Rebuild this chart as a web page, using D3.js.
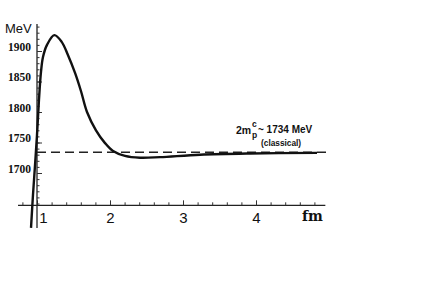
<!DOCTYPE html>
<html>
<head>
<meta charset="utf-8">
<script src="https://cdn.jsdelivr.net/npm/d3@7"></script>
<style>
  body { margin: 0; background: #fff; }
  svg { display: block; }
</style>
</head>
<body>
<svg id="chart" width="436" height="303"></svg>
<script>
// energy curve, r in fm, E in MeV
const rValues = [0.918, 0.945, 0.973, 1.0, 1.027, 1.055, 1.082, 1.137, 1.237, 1.338, 1.425,
  1.521, 1.603, 1.685, 1.808, 1.932, 2.041, 2.205, 2.411, 2.685, 3.233, 3.918, 4.836];
const eValues = [1610, 1664, 1713, 1762, 1820, 1866, 1890, 1910, 1926, 1915, 1893,
  1864, 1834, 1800, 1770, 1749, 1736, 1728, 1725, 1726, 1730, 1732, 1733];
const classicalE = 1734;
const xTicks = [1, 2, 3, 4];
const yTicks = [1700, 1750, 1800, 1850, 1900];

const svg = d3.select('#chart');

const x = d3.scaleLinear().domain([1, 4]).range([37, 256]);
const y = d3.scaleLinear().domain([1700, 1900]).range([173, 51]);

const axisY = y(1647); // where the r axis sits
const axisX = x(1);

// r axis
svg.append('line')
  .attr('x1', x(0.74)).attr('x2', x(4.95))
  .attr('y1', axisY).attr('y2', axisY)
  .attr('stroke', '#222').attr('stroke-width', 1.3);

const gx = svg.append('g').attr('transform', `translate(0,${axisY})`);
gx.call(d3.axisBottom(x).tickValues(d3.range(0.8, 4.95, 0.2)).tickSize(-3).tickFormat(''))
  .call((g) => g.select('.domain').remove());
const gx2 = svg.append('g').attr('transform', `translate(0,${axisY})`);
gx2.call(d3.axisBottom(x).tickValues(xTicks).tickSize(-5).tickPadding(7).tickFormat(d3.format('d')))
  .call((g) => g.select('.domain').remove())
  .call((g) => g.selectAll('.tick text')
    .attr('font-family', 'Liberation Sans, Arial, sans-serif')
    .attr('font-size', 15)
    .attr('fill', '#111')
    .attr('dx', (d) => (d === 1 ? 6 : 0)));
svg.selectAll('.tick line').attr('stroke', '#333');

// E axis
svg.append('line')
  .attr('x1', axisX).attr('x2', axisX)
  .attr('y1', 24).attr('y2', 228)
  .attr('stroke', '#222').attr('stroke-width', 1.3);

const gy = svg.append('g').attr('transform', `translate(${axisX},0)`);
gy.call(d3.axisLeft(y).tickValues(d3.range(1650, 1941, 10)).tickSize(-2.5).tickFormat(''))
  .call((g) => g.select('.domain').remove());
const gy2 = svg.append('g').attr('transform', `translate(${axisX},0)`);
gy2.call(d3.axisLeft(y).tickValues(yTicks).tickSize(-5).tickPadding(6).tickFormat(d3.format('d')))
  .call((g) => g.select('.domain').remove())
  .call((g) => g.selectAll('.tick text')
    .attr('font-family', 'Liberation Serif, Times New Roman, serif')
    .attr('font-weight', 'bold')
    .attr('font-size', 11.5)
    .attr('fill', '#111')
    .attr('dy', '-0.05em'));
gy.selectAll('.tick line').attr('stroke', '#333');
gy2.selectAll('.tick line').attr('stroke', '#333');

// axis labels
svg.append('text').attr('x', 5).attr('y', 33)
  .attr('font-family', 'Liberation Sans, Arial, sans-serif').attr('font-size', 13)
  .attr('fill', '#111').text('MeV');
svg.append('text').attr('x', 302).attr('y', 221)
  .attr('font-family', 'DejaVu Serif, serif').attr('font-weight', 'bold').attr('font-size', 14)
  .attr('fill', '#111').text('fm');

// classical level
svg.append('line')
  .attr('x1', axisX).attr('x2', x(4.98))
  .attr('y1', y(classicalE)).attr('y2', y(classicalE))
  .attr('stroke', '#222').attr('stroke-width', 1.6)
  .attr('stroke-dasharray', '9,5');

// curve
const pts = rValues.map((r, i) => [r, eValues[i]]);
const line = d3.line()
  .x((d) => x(d[0]))
  .y((d) => y(d[1]))
  .curve(d3.curveCatmullRom.alpha(0.5));
svg.append('path')
  .datum(pts)
  .attr('d', line)
  .attr('fill', 'none')
  .attr('stroke', '#111')
  .attr('stroke-width', 2.4)
  .attr('stroke-linejoin', 'round');

// annotation: 2m_p^c ~ 1734 MeV (classical)
const ann = svg.append('text')
  .attr('font-family', 'Liberation Sans, Arial, sans-serif')
  .attr('font-weight', 'bold').attr('fill', '#111');
ann.append('tspan').attr('x', 236).attr('y', 134).attr('font-size', 10.5).text('2m');
ann.append('tspan').attr('x', 252).attr('y', 127).attr('font-size', 8.5).text('c');
ann.append('tspan').attr('x', 252).attr('y', 138).attr('font-size', 8.5).text('p');
ann.append('tspan').attr('x', 258).attr('y', 133).attr('font-size', 10).text('~ 1734 MeV');
ann.append('tspan').attr('x', 261).attr('y', 146).attr('font-size', 8.3).text('(classical)');
</script>
</body>
</html>
